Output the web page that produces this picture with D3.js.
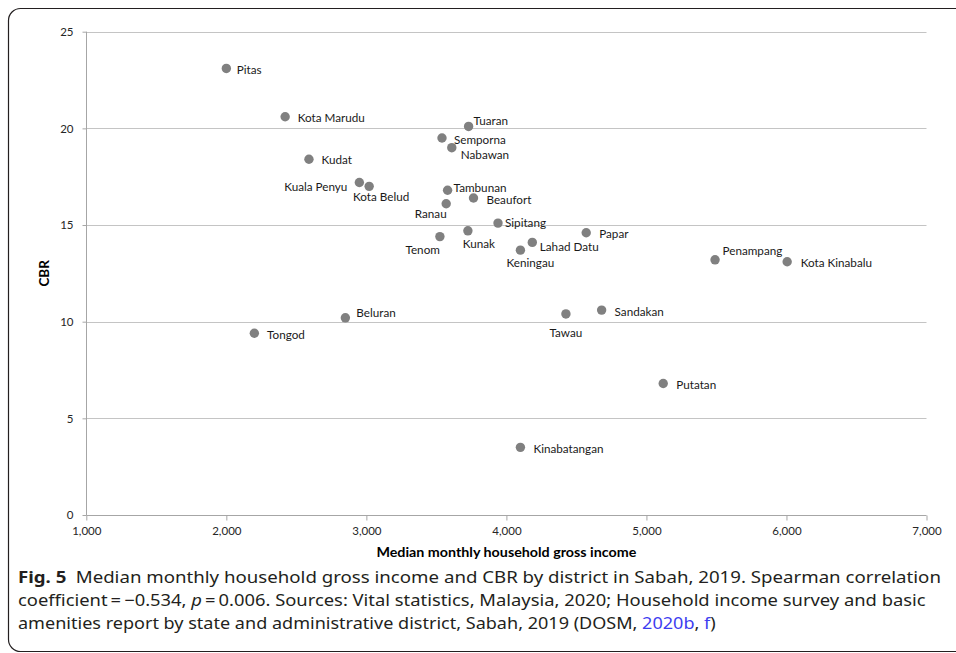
<!DOCTYPE html>
<html>
<head>
<meta charset="utf-8">
<script src="https://cdn.jsdelivr.net/npm/d3@7"></script>
<style>
  html, body { margin: 0; padding: 0; background: #fff; }
  svg { display: block; }
</style>
</head>
<body>
<svg id="fig" width="956" height="653"></svg>
<script>
// District-level data, Sabah 2019
const districts = [
  "Pitas", "Kota Marudu", "Kudat", "Kuala Penyu", "Kota Belud",
  "Semporna", "Nabawan", "Tuaran", "Tambunan", "Ranau",
  "Beaufort", "Tenom", "Kunak", "Sipitang", "Keningau",
  "Lahad Datu", "Papar", "Penampang", "Kota Kinabalu", "Beluran",
  "Tongod", "Tawau", "Sandakan", "Putatan", "Kinabatangan"
];
// Median monthly household gross income (RM)
const income = [
  2000, 2420, 2590, 2950, 3020,
  3540, 3610, 3730, 3580, 3570,
  3765, 3525, 3725, 3940, 4100,
  4185, 4570, 5490, 6005, 2850,
  2200, 4425, 4680, 5120, 4100
];
// Crude birth rate
const cbr = [
  23.1, 20.6, 18.4, 17.2, 17.0,
  19.5, 19.0, 20.1, 16.8, 16.1,
  16.4, 14.4, 14.7, 15.1, 13.7,
  14.1, 14.6, 13.2, 13.1, 10.2,
  9.4, 10.4, 10.6, 6.8, 3.5
];
const xTicks = [1000, 2000, 3000, 4000, 5000, 6000, 7000];
const yTicks = [0, 5, 10, 15, 20, 25];
const xTitle = "Median monthly household gross income";
const yTitle = "CBR";

// Where each data label sits relative to its marker: [anchor, dx, dy]
const labelPlacement = {
  "Pitas": ["start", 10.5, 0.5],
  "Kota Marudu": ["start", 12.5, 0],
  "Kudat": ["start", 12.5, 0],
  "Kuala Penyu": ["end", -12, 4],
  "Kota Belud": ["middle", 12, 10],
  "Semporna": ["start", 12, 1],
  "Nabawan": ["start", 9, 6],
  "Tuaran": ["start", 5, -6],
  "Tambunan": ["start", 6, -3],
  "Ranau": ["end", 0.5, 9],
  "Beaufort": ["start", 13, 1.5],
  "Tenom": ["end", 0, 12],
  "Kunak": ["middle", 11, 12],
  "Sipitang": ["start", 7, -1.5],
  "Keningau": ["middle", 10, 12],
  "Lahad Datu": ["start", 7.5, 4],
  "Papar": ["start", 13, 0.7],
  "Penampang": ["start", 7.5, -10],
  "Kota Kinabalu": ["start", 13.5, 0.7],
  "Beluran": ["start", 11, -6],
  "Tongod": ["start", 12.7, 0.7],
  "Tawau": ["middle", 0, 18],
  "Sandakan": ["start", 13, 1.3],
  "Putatan": ["start", 13, 0.3],
  "Kinabatangan": ["start", 13, 0.3]
};

const points = districts.map((name, i) => ({ name, x: income[i], y: cbr[i] }));

const svg = d3.select("#fig");
const labelFont = "Lato, 'Open Sans', sans-serif";

// Figure frame with rounded corners
svg.append("rect")
  .attr("x", 8.5).attr("y", 8.5)
  .attr("width", 1100).attr("height", 643)
  .attr("rx", 12).attr("ry", 12)
  .attr("fill", "none")
  .attr("stroke", "#231f20")
  .attr("stroke-width", 1.2);

const plot = { left: 86.3, right: 926.5, top: 31.7, bottom: 515 };

const x = d3.scaleLinear().domain([1000, 7000]).range([plot.left, plot.right]);
const y = d3.scaleLinear().domain([0, 25]).range([plot.bottom, plot.top]);

// Horizontal gridlines
svg.append("g")
  .selectAll("line")
  .data(yTicks.filter(d => d > 0))
  .join("line")
  .attr("x1", plot.left).attr("x2", plot.right)
  .attr("y1", d => Math.round(y(d)) + 0.5).attr("y2", d => Math.round(y(d)) + 0.5)
  .attr("stroke", "#c4c4c4")
  .attr("stroke-width", 1);

// X axis
const xAxis = svg.append("g")
  .attr("transform", `translate(0,${Math.round(plot.bottom) + 0.5})`)
  .call(d3.axisBottom(x).tickValues(xTicks).tickSize(5).tickPadding(6)
    .tickFormat(d3.format(",")));
xAxis.select(".domain").attr("stroke", "#a6a6a6").attr("d", `M${plot.left},0H${plot.right}`);
xAxis.selectAll(".tick line").attr("stroke", "#a6a6a6");
xAxis.selectAll(".tick text")
  .attr("font-family", labelFont).attr("font-size", 11.5).attr("fill", "#262626");

// Y axis
const yAxis = svg.append("g")
  .attr("transform", `translate(${Math.round(plot.left) + 0.5},0)`)
  .call(d3.axisLeft(y).tickValues(yTicks).tickSize(4).tickPadding(9));
yAxis.select(".domain").attr("stroke", "#a6a6a6").attr("d", `M0,${plot.top}V${plot.bottom}`);
yAxis.selectAll(".tick line").attr("stroke", "#a6a6a6");
yAxis.selectAll(".tick text")
  .attr("font-family", labelFont).attr("font-size", 11.5).attr("fill", "#262626");

// Axis titles
svg.append("text")
  .attr("x", (plot.left + plot.right) / 2).attr("y", 552)
  .attr("text-anchor", "middle").attr("dominant-baseline", "central")
  .attr("font-family", labelFont).attr("font-weight", "bold")
  .attr("font-size", 13.5).attr("fill", "#000")
  .attr("textLength", 260).attr("lengthAdjust", "spacingAndGlyphs")
  .text(xTitle);

svg.append("text")
  .attr("transform", `translate(44,${(plot.top + plot.bottom) / 2}) rotate(-90)`)
  .attr("text-anchor", "middle").attr("dominant-baseline", "central")
  .attr("font-family", labelFont).attr("font-weight", "bold")
  .attr("font-size", 13.5).attr("fill", "#000")
  .text(yTitle);

// Markers
svg.append("g")
  .selectAll("circle")
  .data(points)
  .join("circle")
  .attr("cx", d => x(d.x)).attr("cy", d => y(d.y))
  .attr("r", 4.7)
  .attr("fill", "#808080");

// Data labels
svg.append("g")
  .selectAll("text")
  .data(points)
  .join("text")
  .attr("x", d => x(d.x) + labelPlacement[d.name][1])
  .attr("y", d => y(d.y) + labelPlacement[d.name][2])
  .attr("text-anchor", d => labelPlacement[d.name][0])
  .attr("dominant-baseline", "central")
  .attr("font-family", labelFont).attr("font-size", 11.7)
  .attr("fill", "#1a1a1a")
  .text(d => d.name);

// Caption, set in a condensed face: each line is fitted to its measure
const captionLines = [
  { y: 583, width: 923, parts: [
    { t: "Fig. 5", bold: true },
    { t: "\u2002Median monthly household gross income and CBR by district in Sabah, 2019. Spearman correlation" }
  ]},
  { y: 606, width: 908, parts: [
    { t: "coefficient\u2009=\u2009\u22120.534, " },
    { t: "p", italic: true },
    { t: "\u2009=\u20090.006. Sources: Vital statistics, Malaysia, 2020; Household income survey and basic" }
  ]},
  { y: 629, width: 699, parts: [
    { t: "amenities report by state and administrative district, Sabah, 2019 (DOSM, " },
    { t: "2020b", link: true },
    { t: ", " },
    { t: "f", link: true },
    { t: ")" }
  ]}
];

const capX = 18;
captionLines.forEach(line => {
  const g = svg.append("g");
  const txt = g.append("text")
    .attr("x", 0).attr("y", 0)
    .attr("font-family", "'Noto Sans', 'Open Sans', sans-serif")
    .attr("font-size", 16.5)
    .attr("fill", "#231f20");
  line.parts.forEach(p => {
    const s = txt.append("tspan").text(p.t);
    if (p.bold) s.attr("font-weight", "bold");
    if (p.italic) s.attr("font-style", "italic");
    if (p.link) s.attr("fill", "#3d3df0");
  });
  const w = txt.node().getComputedTextLength();
  g.attr("transform", `translate(${capX},${line.y}) scale(${line.width / w},1)`);
});
</script>
</body>
</html>
